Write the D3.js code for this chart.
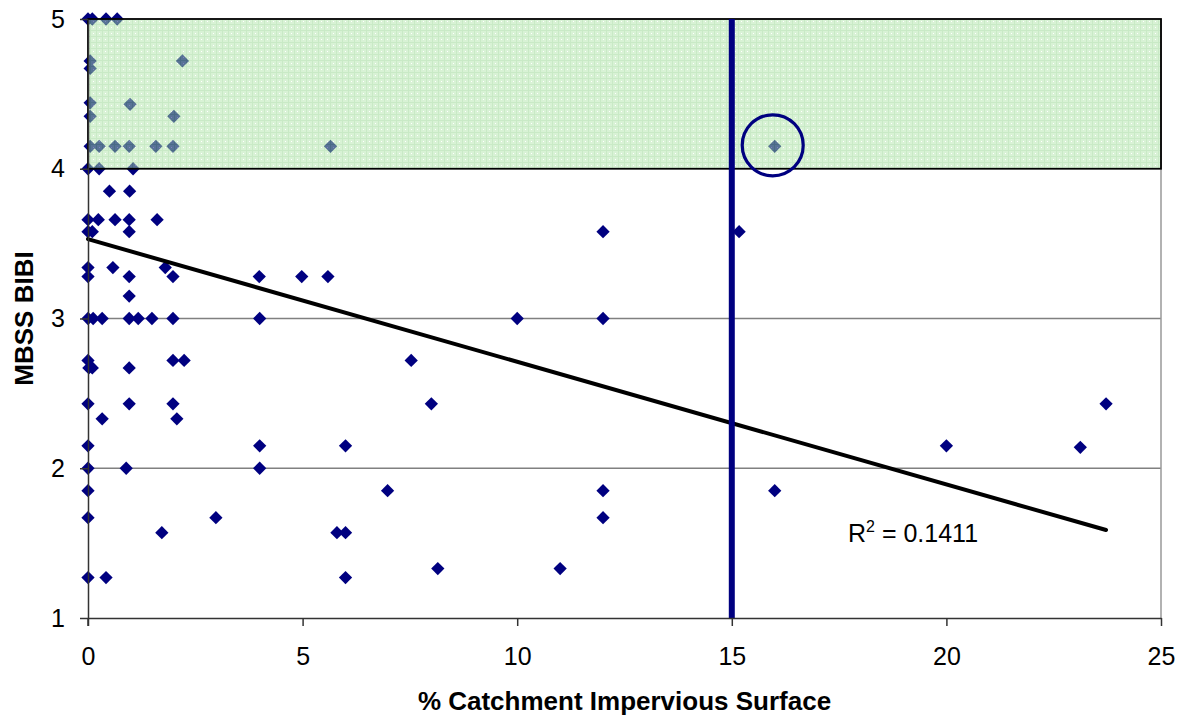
<!DOCTYPE html>
<html><head><meta charset="utf-8">
<script src="https://cdn.jsdelivr.net/npm/d3@7"></script>
<style>body{margin:0;background:#fff}svg{display:block}</style>
</head><body>
<svg id="chart" width="1180" height="719"></svg>
<script>
// ---- data ----
const impervious = [
  0,0.1,0.42,0.68,
  0.05,0.05,2.2,
  0.05,0.98,
  0.05,2.0,
  0.05,0.26,0.63,0.96,1.58,1.98,5.65,16.0,
  0,0.26,1.05,
  0.5,0.97,
  0,0.24,0.63,0.96,1.61,
  0,0.1,0.96,
  0,0.58,1.8,
  0,0.96,1.98,
  0.96,
  0,0.12,0.33,0.96,1.17,1.49,1.98,
  0,1.98,2.24,
  0.02,0.1,0.96,
  0,0.96,1.98,
  0.33,2.07,
  0,4.0,
  0,0.89,4.0,
  0,
  0,2.98,
  1.72,
  0,0.42,
  3.99,4.0,4.98,5.59,7.53,8.0,6.0,6.98,5.8,6.0,6.0,8.15,10.0,11.0,12.0,12.0,12.0,12.0,15.17,16.0,20.0,23.12,23.72
];
const bibi = [
  5,5,5,5,
  4.72,4.67,4.72,
  4.44,4.43,
  4.35,4.35,
  4.15,4.15,4.15,4.15,4.15,4.15,4.15,4.15,
  4.0,4.0,4.0,
  3.85,3.85,
  3.66,3.66,3.66,3.66,3.66,
  3.58,3.58,3.58,
  3.34,3.34,3.34,
  3.28,3.28,3.28,
  3.15,
  3.0,3.0,3.0,3.0,3.0,3.0,3.0,
  2.72,2.72,2.72,
  2.67,2.67,2.67,
  2.43,2.43,2.43,
  2.33,2.33,
  2.15,2.15,
  2.0,2.0,2.0,
  1.85,
  1.67,1.67,
  1.57,
  1.27,1.27,
  3.28,3.0,3.28,3.28,2.72,2.43,2.15,1.85,1.57,1.57,1.27,1.33,3.0,1.33,3.58,3.0,1.85,1.67,3.58,1.85,2.15,2.14,2.43
];
const xTicks = [0,5,10,15,20,25];
const yTicks = [1,2,3,4,5];
const xDomain = [0,25];
const yDomain = [1,5];
const goodBand = [4,5];           // BIBI "good" range
const thresholdX = 15;            // impervious threshold
const highlightPoint = [16.0,4.15];
const trendIntercept = 3.53, trendSlope = -0.0819, trendXMax = 23.72;
const r2Text = "0.1411";
const xTitle = "% Catchment Impervious Surface";
const yTitle = "MBSS BIBI";

// ---- layout ----
const svg = d3.select("#chart");
const m = {left:88, top:19, right:19, bottom:101};
const W = 1180 - m.left - m.right, H = 719 - m.top - m.bottom;
const x = d3.scaleLinear().domain(xDomain).range([m.left, m.left+W]);
const y = d3.scaleLinear().domain(yDomain).range([m.top+H, m.top]);
const navy = "#000080";

// pattern for green band
const defs = svg.append("defs");
const pat = defs.append("pattern").attr("id","grid").attr("patternUnits","userSpaceOnUse")
  .attr("width",6).attr("height",6);
pat.append("rect").attr("width",6).attr("height",6).attr("fill","#b1e5ab");
pat.append("path").attr("d","M0,0.5H6M0.5,0V6").attr("stroke","#93d48c").attr("stroke-width",1);
pat.append("rect").attr("x",3).attr("y",3).attr("width",1).attr("height",1).attr("fill","#ffffff");

// gridlines
svg.append("g").selectAll("line").data(yTicks.filter(t=>t>yDomain[0] && t<goodBand[0]))
  .join("line").attr("x1",x(xDomain[0])).attr("x2",x(xDomain[1]))
  .attr("y1",d=>y(d)).attr("y2",d=>y(d)).attr("stroke","#808080").attr("stroke-width",1.5);
// right border
svg.append("line").attr("x1",x(xDomain[1])).attr("x2",x(xDomain[1]))
  .attr("y1",y(yDomain[0])).attr("y2",y(yDomain[1])).attr("stroke","#999").attr("stroke-width",1.5);

// points
const pts = impervious.map((v,i)=>[v,bibi[i]]);
svg.append("g").selectAll("path").data(pts).join("path")
  .attr("d", d3.symbol(d3.symbolSquare, 88)())
  .attr("transform", d=>`translate(${x(d[0])},${y(d[1])}) rotate(45)`)
  .attr("fill", navy);

// green band overlay
svg.append("rect").attr("x",x(xDomain[0])).attr("y",y(goodBand[1]))
  .attr("width",x(xDomain[1])-x(xDomain[0])).attr("height",y(goodBand[0])-y(goodBand[1]))
  .attr("fill","url(#grid)").attr("opacity",0.5);
svg.append("rect").attr("x",x(xDomain[0])).attr("y",y(goodBand[1]))
  .attr("width",x(xDomain[1])-x(xDomain[0])).attr("height",y(goodBand[0])-y(goodBand[1]))
  .attr("fill","none").attr("stroke","#000").attr("stroke-width",1.8);

// trend line
svg.append("line").attr("x1",x(0)).attr("y1",y(trendIntercept))
  .attr("x2",x(trendXMax)).attr("y2",y(trendIntercept+trendSlope*trendXMax))
  .attr("stroke","#000").attr("stroke-width",4).attr("stroke-linecap","round");

// threshold line
svg.append("line").attr("x1",x(thresholdX)).attr("x2",x(thresholdX))
  .attr("y1",y(yDomain[0])).attr("y2",y(yDomain[1])).attr("stroke",navy).attr("stroke-width",6);

// highlight circle
svg.append("circle").attr("cx",x(highlightPoint[0])-2).attr("cy",y(highlightPoint[1])-1).attr("r",30.5)
  .attr("fill","none").attr("stroke",navy).attr("stroke-width",3.2);

// axes
const fontFam = "'Liberation Sans', Arial, sans-serif";
const xa = svg.append("g").attr("transform",`translate(0,${y(yDomain[0])})`)
  .call(d3.axisBottom(x).tickValues(xTicks).tickFormat(d3.format("d")).tickSize(8).tickPadding(21).tickSizeOuter(0));
const ya = svg.append("g").attr("transform",`translate(${x(xDomain[0])},0)`)
  .call(d3.axisLeft(y).tickValues(yTicks).tickFormat(d3.format("d")).tickSize(8).tickPadding(15).tickSizeOuter(0));
[xa,ya].forEach(a=>{
  a.attr("font-family",fontFam).attr("font-size",25);
  a.select(".domain").attr("stroke","#333").attr("stroke-width",1.5);
  a.selectAll(".tick line").attr("stroke","#333").attr("stroke-width",1.5);
  a.selectAll("text").attr("fill","#000");
});
// extend y axis down to x tick
svg.append("line").attr("x1",x(0)).attr("x2",x(0)).attr("y1",y(yDomain[0])).attr("y2",y(yDomain[0])+8)
  .attr("stroke","#333").attr("stroke-width",1.5);

// titles
svg.append("text").attr("x",m.left+W/2).attr("y",710).attr("text-anchor","middle")
  .attr("font-family",fontFam).attr("font-weight","bold").attr("font-size",26).text(xTitle);
svg.append("text").attr("transform",`translate(33,${m.top+H/2}) rotate(-90)`).attr("text-anchor","middle")
  .attr("font-family",fontFam).attr("font-weight","bold").attr("font-size",26).text(yTitle);

// R² label
const r2 = svg.append("text").attr("x",848).attr("y",542)
  .attr("font-family",fontFam).attr("font-size",25);
r2.append("tspan").text("R");
r2.append("tspan").attr("dy",-10).attr("font-size",16).text("2");
r2.append("tspan").attr("dy",10).text(" = " + r2Text);
</script>
</body></html>
